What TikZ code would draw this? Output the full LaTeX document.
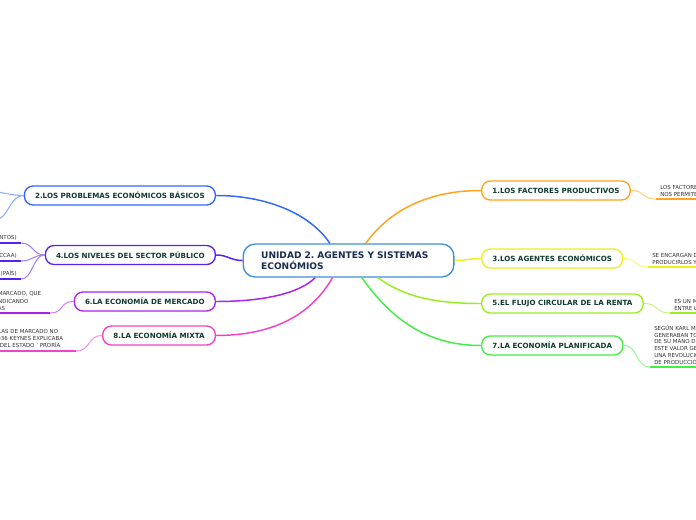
\documentclass[tikz,border=0pt]{standalone}
\usepackage{fontspec}
\setmainfont{DejaVu Sans}
\frenchspacing

\definecolor{cmain}{HTML}{3D8FD1}
\definecolor{ctext}{HTML}{1A2C50}
\definecolor{btext}{HTML}{0E3B2E}
\definecolor{ltext}{HTML}{333333}
\definecolor{corange}{HTML}{FFA31A}
\definecolor{cyellow}{HTML}{EEEE22}
\definecolor{clgreen}{HTML}{99EE22}
\definecolor{cgreen}{HTML}{44EE44}
\definecolor{cblue}{HTML}{3366FF}
\definecolor{cindigo}{HTML}{5522EE}
\definecolor{cpurple}{HTML}{AA22EE}
\definecolor{cpink}{HTML}{EE44CC}

\begin{document}
\begin{tikzpicture}[x=0.75pt,y=-0.75pt,
  branch/.style={draw=#1, line width=1pt, rounded corners=6.5pt, fill=white,
    minimum height=14.25pt, inner xsep=8pt, text=btext,
    font=\bfseries\fontsize{5.35}{6}\selectfont},
  leaf/.style={font=\fontsize{4.1}{5.4}\selectfont, text=ltext, align=left,
    inner xsep=3pt, inner ysep=1.8pt},
  link/.style={draw=#1, line width=1.1pt},
  twig/.style={draw=#1!55, line width=0.8pt},
  uline/.style={draw=#1, line width=1.5pt}]

\useasboundingbox (0,0) rectangle (696,520);
\fill[white] (0,0) rectangle (696,520);
\clip (0,0) rectangle (696,520);

% centre
\node[draw=cmain, line width=1pt, rounded corners=9pt, fill=white,
  minimum width=158pt, minimum height=24.75pt, text width=131pt, align=left,
  text=ctext, font=\bfseries\fontsize{6.8}{8.2}\selectfont]
  (unit) at (348.5,260.5) {UNIDAD 2. AGENTES Y SISTEMAS\\ECONÓMIOS};

% right branches
\node[branch=corange, anchor=west] (b1) at (481,190.5) {1.LOS FACTORES PRODUCTIVOS};
\node[branch=cyellow, anchor=west] (b3) at (481,258.5) {3.LOS AGENTES ECONÓMICOS};
\node[branch=clgreen, anchor=west] (b5) at (481,303.5) {5.EL FLUJO CIRCULAR DE LA RENTA};
\node[branch=cgreen, anchor=west] (b7) at (481,345.5) {7.LA ECONOMÍA PLANIFICADA};

% left branches
\node[branch=cblue, anchor=east] (b2) at (216,195.5) {2.LOS PROBLEMAS ECONÓMICOS BÁSICOS};
\node[branch=cindigo, anchor=east] (b4) at (216,255) {4.LOS NIVELES DEL SECTOR PÚBLICO};
\node[branch=cpurple, anchor=east] (b6) at (216,301.5) {6.LA ECONOMÍA DE MERCADO};
\node[branch=cpink, anchor=east] (b8) at (216,335.5) {8.LA ECONOMÍA MIXTA};

% centre to branches
\draw[link=cblue] ([xshift=-14pt]unit.north) .. controls +(-20,-30) and +(50,0) .. (b2.east);
\draw[link=corange] ([xshift=13pt]unit.north) .. controls +(25,-35) and +(-50,0) .. (b1.west);
\draw[link=cyellow] (unit.east) .. controls +(12,0) and +(-12,0) .. (b3.west);
\draw[link=clgreen] ([xshift=22pt]unit.south) .. controls +(25,18) and +(-50,0) .. (b5.west);
\draw[link=cgreen] ([xshift=10pt]unit.south) .. controls +(25,35) and +(-60,0) .. (b7.west);
\draw[link=cindigo] (unit.west) .. controls +(-12,0) and +(12,0) .. (b4.east);
\draw[link=cpurple] ([xshift=-25pt]unit.south) .. controls +(-15,15) and +(50,0) .. (b6.east);
\draw[link=cpink] ([xshift=-12pt]unit.south) .. controls +(-20,35) and +(60,0) .. (b8.east);

% right leaves
\node[leaf, anchor=south west] (l1) at (656,199)
  {LOS FACTORES PRODUCTIVOS SON LOS RECURSOS QUE\\NOS PERMITEN PRODUCIR BIENES Y SERVICIOS};
\node[leaf, anchor=south west] (l3) at (648,267)
  {SE ENCARGAN DE OBTENER LOS RECURSOS,\\PRODUCIRLOS Y CONSUMIRLOS};
\node[leaf, anchor=south west] (l5) at (670,313)
  {ES UN MODELO QUE REPRESENTA LAS RELACIONES\\ENTRE LOS AGENTES ECONÓMICOS};
\node[leaf, anchor=south west, font=\fontsize{4.1}{5.1}\selectfont] (l7) at (650,367)
  {SEGÚN KARL MARX, LOS TRABAJADORES\\GENERABAN TODO EL VALOR\\DE SU MANO DE OBRA\\ESTE VALOR GENERADO EXIGÍA\\UNA REVOLUCIÓN DE LOS MEDIOS\\DE PRODUCCIÓN};

\draw[uline=corange] (l1.south west) -- (l1.south east);
\draw[uline=cyellow] (l3.south west) -- (l3.south east);
\draw[uline=clgreen] (l5.south west) -- (l5.south east);
\draw[uline=cgreen] (l7.south west) -- (l7.south east);

\draw[twig=corange] (b1.east) .. controls +(15,0) and +(-15,0) .. (l1.south west);
\draw[twig=cyellow] (b3.east) .. controls +(15,0) and +(-15,0) .. (l3.south west);
\draw[twig=clgreen] (b5.east) .. controls +(15,0) and +(-15,0) .. (l5.south west);
\draw[twig=cgreen] (b7.east) .. controls +(15,0) and +(-15,0) .. (l7.south west);

% left leaves
\coordinate (l2a) at (-20,190);
\coordinate (l2b) at (-6,220);
\draw[twig=cblue] (b2.west) .. controls +(-15,0) and +(15,0) .. (l2a);
\draw[twig=cblue] (b2.west) .. controls +(-15,0) and +(15,0) .. (l2b);

\node[leaf, anchor=south east] (l4a) at (21,243) {LOCAL (AYUNTAMIENTOS)};
\node[leaf, anchor=south east] (l4b) at (21,261) {AUTONÓMICO (CCAA)};
\node[leaf, anchor=south east] (l4c) at (21,279) {ESTATAL (PAÍS)};
\draw[uline=cindigo] (l4a.south west) -- (l4a.south east);
\draw[uline=cindigo] (l4b.south west) -- (l4b.south east);
\draw[uline=cindigo] (l4c.south west) -- (l4c.south east);
\draw[twig=cindigo] (b4.west) .. controls +(-12,0) and +(12,0) .. (l4a.south east);
\draw[twig=cindigo] (b4.west) .. controls +(-12,0) and +(12,0) .. (l4b.south east);
\draw[twig=cindigo] (b4.west) .. controls +(-12,0) and +(12,0) .. (l4c.south east);

\node[leaf, anchor=south east, text width=94.5pt] (l6) at (50,313)
  {SE BASA EN LAS LEYES DEL MARCADO, QUE\\LA OFERTA Y LA DEMANDA, INDICANDO\\LOS PRECIOS A LAS EMPRESAS};
\node[leaf, anchor=south east, text width=106.5pt] (l8) at (76,351)
  {SURGE CUANDO LAS FALLAS DE MARCADO NO\\SE CORRIGEN, Y EN EL 1936 KEYNES EXPLICABA\\QUE UNA INTERVENCIÓN DEL ESTADO ' PRORÍA};
\draw[uline=cpurple] (l6.south west) -- (l6.south east);
\draw[uline=cpink] (l8.south west) -- (l8.south east);
\draw[twig=cpurple] (b6.west) .. controls +(-15,0) and +(15,0) .. (l6.south east);
\draw[twig=cpink] (b8.west) .. controls +(-15,0) and +(15,0) .. (l8.south east);
\end{tikzpicture}
\end{document}
